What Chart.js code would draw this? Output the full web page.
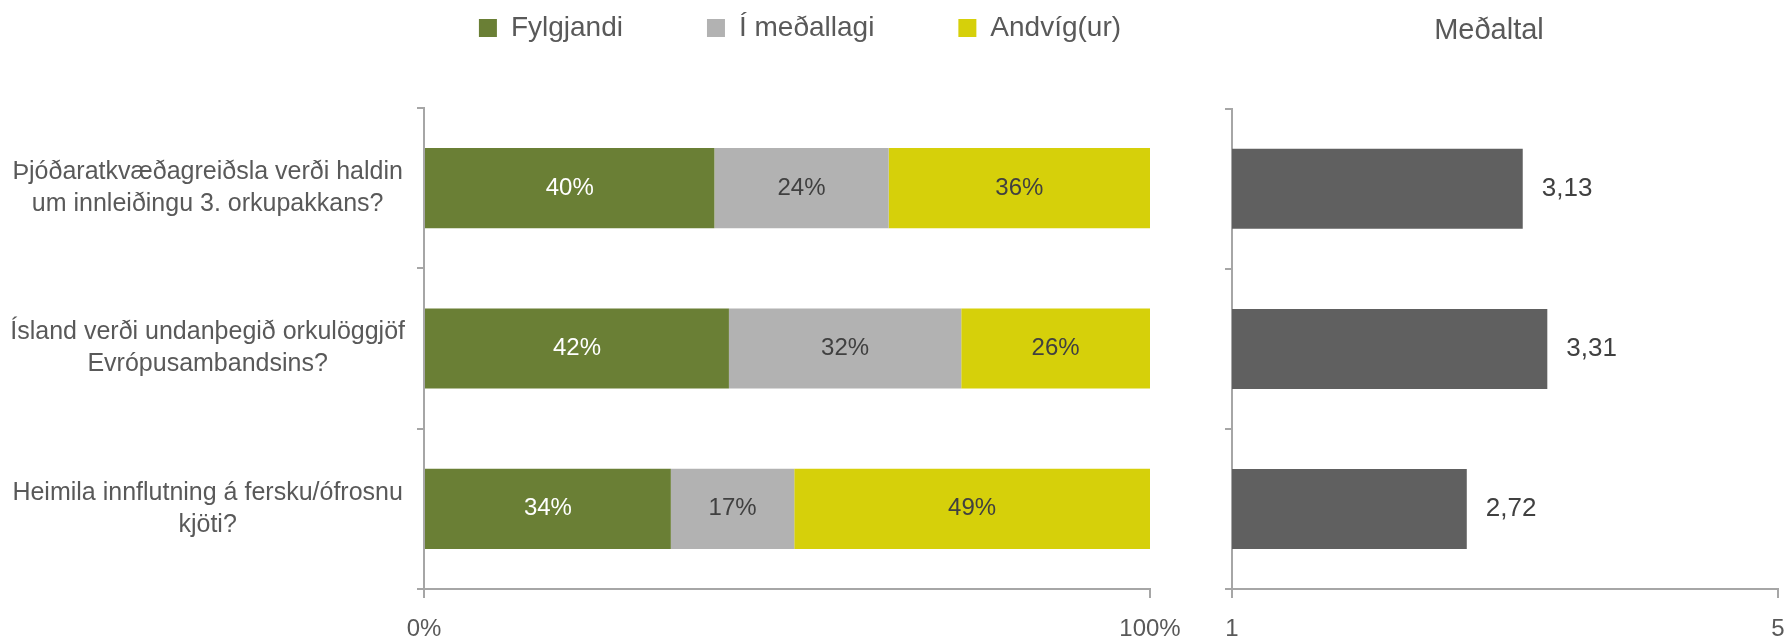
<!DOCTYPE html>
<html>
<head>
<meta charset="utf-8">
<script src="https://cdn.jsdelivr.net/npm/chart.js@4"></script>
<style>
    html, body { margin: 0; padding: 0; background: #fff; }
    body { width: 1787px; height: 638px; position: relative; overflow: hidden; }
    .box { position: absolute; top: 0; height: 638px; }
    #box-share { left: 0; width: 1600px; }
    #box-mean { left: 1200px; width: 587px; }
</style>
</head>
<body>
<div class="box" id="box-share"><canvas id="share-chart"></canvas></div>
<div class="box" id="box-mean"><canvas id="mean-chart"></canvas></div>
<script>
const questions = [
    ['Þjóðaratkvæðagreiðsla verði haldin', 'um innleiðingu 3. orkupakkans?'],
    ['Ísland verði undanþegið orkulöggjöf', 'Evrópusambandsins?'],
    ['Heimila innflutning á fersku/ófrosnu', 'kjöti?']
];
const seriesNames = ['Fylgjandi', 'Í meðallagi', 'Andvíg(ur)'];
const fylgjandi = [40, 42, 34];
const medallagi = [24, 32, 17];
const andvig = [36, 26, 49];
const medaltal = [3.13, 3.31, 2.72];
const shareTicks = [0, 100];
const meanTicks = [1, 5];
const meanTitle = 'Meðaltal';

document.addEventListener('DOMContentLoaded', () => {
    const FONT = 'Liberation Sans';
    const TEXT = '#595959';
    const AXIS = '#a6a6a6';
    const seriesColors = ['#6a7f35', '#b2b2b2', '#d6d00a'];
    const labelColors = ['#ffffff', '#404040', '#404040'];

    // value labels inside the stacked bars
    const shareLabels = {
        id: 'shareLabels',
        afterDatasetsDraw(chart) {
            const ctx = chart.ctx;
            ctx.save();
            ctx.font = `24px "${FONT}"`;
            ctx.textAlign = 'center';
            ctx.textBaseline = 'middle';
            chart.data.datasets.forEach((ds, i) => {
                chart.getDatasetMeta(i).data.forEach((bar, j) => {
                    ctx.fillStyle = labelColors[i];
                    ctx.fillText(ds.data[j] + '%', (bar.x + bar.base) / 2, bar.y);
                });
            });
            ctx.restore();
        }
    };

    // value labels right of the mean bars
    const meanLabels = {
        id: 'meanLabels',
        afterDatasetsDraw(chart) {
            const ctx = chart.ctx;
            ctx.save();
            ctx.font = `26px "${FONT}"`;
            ctx.fillStyle = '#404040';
            ctx.textAlign = 'left';
            ctx.textBaseline = 'middle';
            chart.getDatasetMeta(0).data.forEach((bar, j) => {
                ctx.fillText(medaltal[j].toFixed(2).replace('.', ','), bar.x + 19, bar.y);
            });
            ctx.restore();
        }
    };

    // bottom axis: fixed height, no extra side padding from the end labels
    const fitBottom = s => {
        s.height = 49;
        s.paddingLeft = 0;
        s.paddingRight = 0;
    };

    const seriesData = [fylgjandi, medallagi, andvig];

    new Chart(document.getElementById('share-chart'), {
        type: 'bar',
        data: {
            labels: questions,
            datasets: seriesNames.map((name, i) => ({
                label: name,
                data: seriesData[i],
                backgroundColor: seriesColors[i],
                categoryPercentage: 1,
                barPercentage: 0.5
            }))
        },
        options: {
            indexAxis: 'y',
            responsive: true,
            maintainAspectRatio: false,
            animation: false,
            layout: { padding: { top: -70, left: 0, right: 0, bottom: 0 } },
            scales: {
                x: {
                    stacked: true,
                    min: 0,
                    max: 100,
                    afterBuildTicks: s => { s.ticks = shareTicks.map(v => ({ value: v })); },
                    afterFit: fitBottom,
                    ticks: {
                        callback: v => v + '%',
                        color: TEXT,
                        padding: 19,
                        maxRotation: 0,
                        font: { family: FONT, size: 24, lineHeight: 1 }
                    },
                    grid: { display: true, drawOnChartArea: false, tickLength: 9, color: AXIS, lineWidth: 2 },
                    border: { color: AXIS, width: 2 }
                },
                y: {
                    stacked: true,
                    afterFit: s => { s.width = 424; s.paddingTop = 0; s.paddingBottom = 0; },
                    ticks: {
                        color: TEXT,
                        padding: 12,
                        crossAlign: 'center',
                        font: { family: FONT, size: 25, lineHeight: 1.28 }
                    },
                    grid: { display: true, drawOnChartArea: false, tickLength: 7, color: AXIS, lineWidth: 2 },
                    border: { color: AXIS, width: 2 }
                },
                pad: {
                    type: 'linear',
                    position: 'right',
                    afterFit: s => { s.width = 450; },
                    grid: { display: false },
                    border: { display: false },
                    ticks: { display: false }
                }
            },
            plugins: {
                legend: {
                    position: 'top',
                    labels: {
                        boxWidth: 18,
                        boxHeight: 18,
                        padding: 84,
                        color: TEXT,
                        font: { family: FONT, size: 28 }
                    }
                },
                // empty title used as a spacer under the legend
                title: {
                    display: true,
                    text: '',
                    weight: 500,
                    padding: 0,
                    font: { size: 56, lineHeight: 1 }
                },
                tooltip: { enabled: false }
            }
        },
        plugins: [shareLabels]
    });

    new Chart(document.getElementById('mean-chart'), {
        type: 'bar',
        data: {
            labels: questions,
            datasets: [{
                label: meanTitle,
                data: medaltal,
                backgroundColor: '#606060',
                categoryPercentage: 1,
                barPercentage: 0.5
            }]
        },
        options: {
            indexAxis: 'y',
            responsive: true,
            maintainAspectRatio: false,
            animation: false,
            layout: { padding: { top: 0, left: 0, right: 9, bottom: 0 } },
            scales: {
                x: {
                    min: 1,
                    max: 5,
                    afterBuildTicks: s => { s.ticks = meanTicks.map(v => ({ value: v })); },
                    afterFit: fitBottom,
                    ticks: {
                        color: TEXT,
                        padding: 19,
                        maxRotation: 0,
                        font: { family: FONT, size: 24, lineHeight: 1 }
                    },
                    grid: { display: true, drawOnChartArea: false, tickLength: 9, color: AXIS, lineWidth: 2 },
                    border: { color: AXIS, width: 2 }
                },
                y: {
                    afterFit: s => { s.width = 32; s.paddingTop = 0; s.paddingBottom = 0; },
                    ticks: { display: false },
                    grid: { display: true, drawOnChartArea: false, tickLength: 7, color: AXIS, lineWidth: 2 },
                    border: { color: AXIS, width: 2 }
                }
            },
            plugins: {
                legend: { display: false },
                title: {
                    display: true,
                    text: meanTitle,
                    color: TEXT,
                    padding: { top: 14, bottom: 60 },
                    font: { family: FONT, size: 29, weight: 'normal', lineHeight: 1.2 }
                },
                tooltip: { enabled: false }
            }
        },
        plugins: [meanLabels]
    });
});
</script>
</body>
</html>
